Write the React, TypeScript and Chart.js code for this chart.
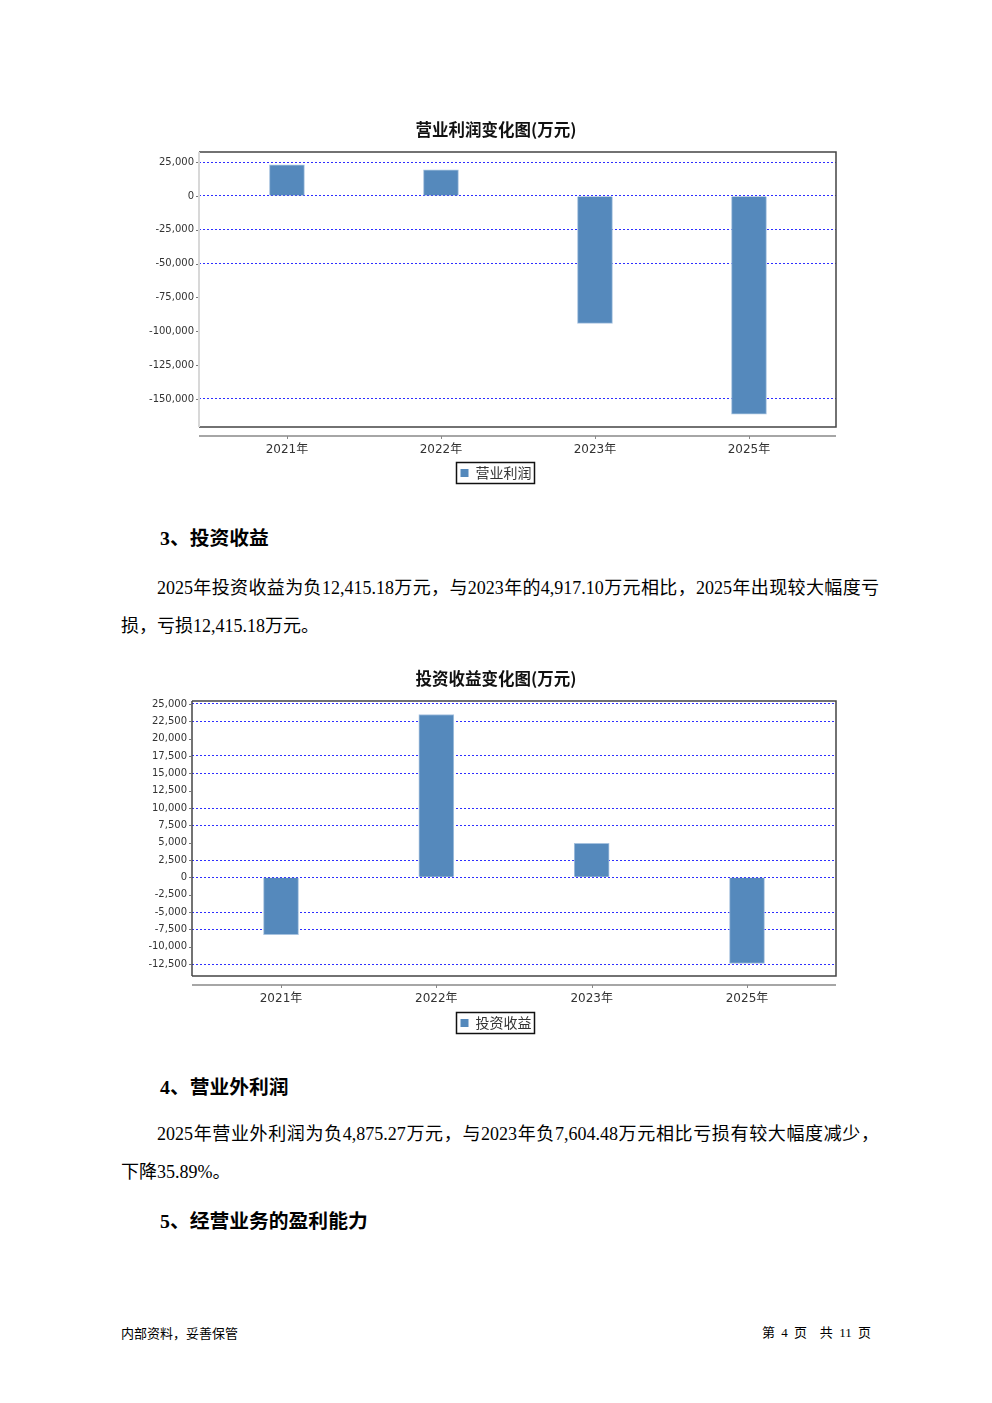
import React, { useEffect, useRef } from 'react';
import { Chart, registerables } from 'chart.js';

Chart.register(...registerables);

// ---------------- data ----------------
const years = ['2021年', '2022年', '2023年', '2025年'];

const opProfitTitle = '营业利润变化图(万元)';
const opProfitLabel = '营业利润';
const opProfitValues = [23000, 19300, -94100, -161300];
const opProfitTicks = [25000, 0, -25000, -50000, -75000, -100000, -125000, -150000];
const opProfitHiddenGrid = [-75000, -100000, -125000];

const invTitle = '投资收益变化图(万元)';
const invLabel = '投资收益';
const invValues = [-8270, 23490, 4917.1, -12415.18];
const invTicks = [25000, 22500, 20000, 17500, 15000, 12500, 10000, 7500, 5000, 2500, 0, -2500, -5000, -7500, -10000, -12500];
const invHiddenGrid = [20000, 12500, 5000, -2500, -10000];

// ---------------- chart ----------------
const BAR_COLOR = '#5589bc';
const BAR_EDGE = '#a6c2df';
const GRID_COLOR = 'rgba(35,35,255,0.95)';

const decorPlugin = {
  id: 'decor',
  afterLayout(chart: any) {
    // widen the clip box of the value-axis labels so long labels are not cut
    const ys = chart.scales.y;
    if (ys) ys.left = ys.left - 16;
  },
  afterDatasetsDraw(chart: any, _args: any, opts: any) {
    const { ctx, chartArea: a } = chart;
    ctx.save();
    ctx.setLineDash([]);
    // frame
    ctx.lineWidth = 1.5;
    ctx.strokeStyle = '#444';
    ctx.beginPath();
    ctx.moveTo(a.left, a.top);
    ctx.lineTo(a.right, a.top);
    ctx.lineTo(a.right, a.bottom);
    ctx.lineTo(a.left, a.bottom);
    ctx.stroke();
    ctx.strokeStyle = opts.leftColor || '#444';
    ctx.lineWidth = opts.leftWidth || 1.5;
    ctx.beginPath();
    ctx.moveTo(a.left, a.top);
    ctx.lineTo(a.left, a.bottom);
    ctx.stroke();
    // y tick marks
    const ys = chart.scales.y;
    ctx.strokeStyle = '#777';
    ctx.lineWidth = 1;
    ys.ticks.forEach((t: any) => {
      const p = Math.round(ys.getPixelForValue(t.value)) + 0.5;
      ctx.beginPath();
      ctx.moveTo(a.left - 3, p);
      ctx.lineTo(a.left - 1, p);
      ctx.stroke();
    });
    // separate category axis line
    const axisY = a.bottom + 9;
    ctx.strokeStyle = '#888';
    ctx.lineWidth = 1.5;
    ctx.beginPath();
    ctx.moveTo(a.left, axisY);
    ctx.lineTo(a.right, axisY);
    ctx.stroke();
    const xs = chart.scales.x;
    ctx.lineWidth = 1;
    xs.ticks.forEach((t: any) => {
      const p = Math.round(xs.getPixelForValue(t.value)) + 0.5;
      ctx.beginPath();
      ctx.moveTo(p, axisY);
      ctx.lineTo(p, axisY + 3);
      ctx.stroke();
    });
    ctx.restore();
  },
  afterDraw(chart: any) {
    const lg = chart.legend;
    if (!lg || !lg.legendHitBoxes || !lg.legendHitBoxes.length) return;
    const hb = lg.legendHitBoxes[0];
    const { ctx } = chart;
    ctx.save();
    ctx.setLineDash([]);
    ctx.strokeStyle = '#111';
    ctx.lineWidth = 1.5;
    ctx.strokeRect(hb.left - 4, hb.top + hb.height / 2 - 10.5, hb.width + 7, 21);
    ctx.restore();
  },
};

type BarProps = {
  title: string;
  label: string;
  values: number[];
  yTicks: number[];
  hiddenGrid: number[];
  yMin: number;
  yMax: number;
  xMin: number;
  xMax: number;
  yAxisWidth: number;
  xAxisHeight: number;
  leftColor: string;
  leftWidth: number;
  left: number;
  top: number;
  width: number;
  height: number;
};

function BarChart(p: BarProps) {
  const ref = useRef<HTMLCanvasElement | null>(null);
  useEffect(() => {
    if (!ref.current) return;
    const chart = new Chart(ref.current, {
      type: 'bar',
      data: {
        datasets: [
          {
            label: p.label,
            data: p.values.map((v, i) => ({ x: i, y: v })) as any,
            backgroundColor: BAR_COLOR,
            borderColor: BAR_EDGE,
            borderWidth: 1,
            barThickness: 35,
          },
        ],
      },
      options: {
        animation: false,
        responsive: false,
        devicePixelRatio: 1,
        layout: { padding: { left: 16, right: 16, top: 0, bottom: 0 } },
        plugins: {
          tooltip: { enabled: false },
          title: {
            display: true,
            text: p.title,
            color: '#111',
            font: { family: '"Noto Sans CJK SC", sans-serif', size: 16.5, weight: 'bold', lineHeight: '20px' } as any,
            padding: { top: 10, bottom: 12 },
          },
          legend: {
            display: true,
            position: 'bottom',
            labels: {
              boxWidth: 8,
              boxHeight: 8,
              padding: 6,
              color: '#333',
              font: { family: '"Noto Sans CJK SC", sans-serif', size: 14 },
              generateLabels: (chart: any) => {
                const items = (Chart.defaults.plugins.legend.labels as any).generateLabels(chart);
                items.forEach((it: any) => {
                  it.lineWidth = 0;
                  it.strokeStyle = 'rgba(0,0,0,0)';
                });
                return items;
              },
            },
          },
          decor: { leftColor: p.leftColor, leftWidth: p.leftWidth },
        } as any,
        scales: {
          x: {
            type: 'linear',
            min: p.xMin,
            max: p.xMax,
            offset: false,
            grid: { display: false, drawTicks: false, offset: false },
            border: { display: false },
            afterBuildTicks: (scale: any) => {
              scale.ticks = years.map((_, i) => ({ value: i }));
            },
            afterFit: (scale: any) => {
              scale.height = p.xAxisHeight;
            },
            ticks: {
              autoSkip: false,
              maxRotation: 0,
              padding: 16,
              color: '#333',
              font: { family: '"DejaVu Sans", "Noto Sans CJK SC", sans-serif', size: 12 },
              callback: (v: any) => years[v as number] ?? '',
            },
          },
          y: {
            type: 'linear',
            min: p.yMin,
            max: p.yMax,
            afterBuildTicks: (scale: any) => {
              scale.ticks = p.yTicks.map((v) => ({ value: v }));
            },
            afterFit: (scale: any) => {
              scale.width = p.yAxisWidth;
            },
            grid: {
              drawTicks: false,
              lineWidth: 1,
              color: (ctx: any) =>
                ctx.tick && p.hiddenGrid.includes(ctx.tick.value) ? 'rgba(0,0,0,0)' : GRID_COLOR,
            },
            border: { display: false, dash: [2, 2] },
            ticks: {
              padding: 5,
              color: '#333',
              font: { family: '"DejaVu Sans", sans-serif', size: 10 },
              callback: (v: any) => Number(v).toLocaleString('en-US'),
            },
          },
        } as any,
      },
      plugins: [decorPlugin as any],
    });
    return () => chart.destroy();
  }, []);
  return (
    <div style={{ position: 'absolute', left: p.left, top: p.top, width: p.width, height: p.height }}>
      <canvas ref={ref} width={p.width} height={p.height} style={{ display: 'block' }} />
    </div>
  );
}

// ---------------- page ----------------
const serif = '"Liberation Serif", "Noto Sans CJK SC", serif';

function Line(props: {
  x: number;
  cy: number;
  size: number;
  bold?: boolean;
  width?: number;
  justify?: boolean;
  right?: boolean;
  family?: string;
  wordSpacing?: number;
  children: React.ReactNode;
}) {
  const lh = 26;
  const style: React.CSSProperties = {
    position: 'absolute',
    top: props.cy - lh / 2,
    lineHeight: lh + 'px',
    fontSize: props.size,
    fontFamily: props.family || serif,
    fontWeight: props.bold ? 'bold' : 'normal',
    color: '#000',
    whiteSpace: 'pre',
  };
  if (props.right) {
    style.right = 992 - props.x;
  } else {
    style.left = props.x;
  }
  if (props.width) {
    style.width = props.width;
  }
  if (props.wordSpacing) {
    style.wordSpacing = props.wordSpacing + 'px';
  }
  if (props.justify) {
    style.whiteSpace = 'nowrap';
    style.textAlign = 'justify';
    (style as any).textAlignLast = 'justify';
  }
  return (
    <div lang="zh-CN" style={style}>
      {props.children}
    </div>
  );
}

export default function App() {
  return (
    <div style={{ position: 'absolute', left: 0, top: 0, width: 992, height: 1403, background: '#fff', overflow: 'hidden' }}>
      <BarChart
        title={opProfitTitle}
        label={opProfitLabel}
        values={opProfitValues}
        yTicks={opProfitTicks}
        hiddenGrid={opProfitHiddenGrid}
        yMin={-170700}
        yMax={32500}
        xMin={-0.571}
        xMax={3.565}
        yAxisWidth={43}
        xAxisHeight={33}
        leftColor="#d8d8d8"
        leftWidth={2}
        left={140}
        top={110}
        width={712}
        height={380}
      />

      <Line x={160} cy={537.5} size={19.8} bold>3、投资收益</Line>
      <Line x={157} cy={588} size={18} width={722} justify>
        2025年投资收益为负12,415.18万元，与2023年的4,917.10万元相比，2025年出现较大幅度亏
      </Line>
      <Line x={121} cy={626} size={18}>损，亏损12,415.18万元。</Line>

      <BarChart
        title={invTitle}
        label={invLabel}
        values={invValues}
        yTicks={invTicks}
        hiddenGrid={invHiddenGrid}
        yMin={-14220}
        yMax={25430}
        xMin={-0.573}
        xMax={3.573}
        yAxisWidth={36}
        xAxisHeight={34}
        leftColor="#444"
        leftWidth={1.5}
        left={140}
        top={659}
        width={712}
        height={381}
      />

      <Line x={160} cy={1086.5} size={19.8} bold>4、营业外利润</Line>
      <Line x={157} cy={1134} size={18} width={722} justify>
        2025年营业外利润为负4,875.27万元，与2023年负7,604.48万元相比亏损有较大幅度减少，
      </Line>
      <Line x={121} cy={1172} size={18}>下降35.89%。</Line>

      <Line x={160} cy={1221} size={19.8} bold>5、经营业务的盈利能力</Line>

      <Line x={121} cy={1333} size={13} family={'"Noto Sans CJK SC", sans-serif'}>内部资料，妥善保管</Line>
      <Line x={871} cy={1333} size={13} right wordSpacing={3.1}>第 4 页  共 11 页</Line>
    </div>
  );
}
